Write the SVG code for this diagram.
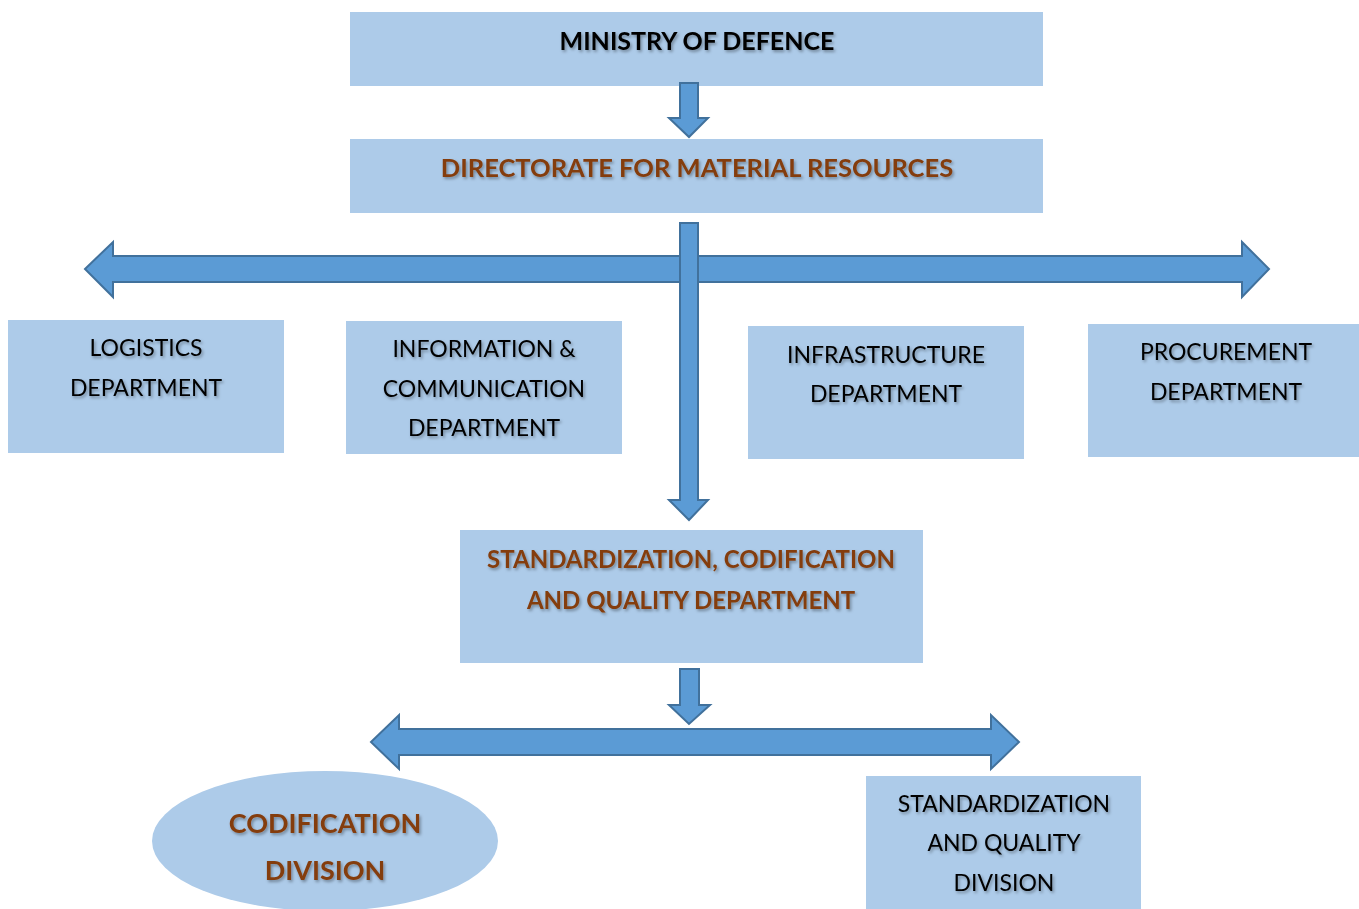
<svg xmlns="http://www.w3.org/2000/svg" width="1359" height="909" viewBox="0 0 1359 909">
<defs>
<filter id="sh" x="-10%" y="-30%" width="120%" height="160%">
<feDropShadow dx="1.5" dy="2" stdDeviation="1.5" flood-color="#000" flood-opacity="0.35"/>
</filter>
</defs>
<style>
.box{fill:#ADCBE9;}
.arr{fill:#5B9BD5;stroke:#41719C;stroke-width:2;stroke-linejoin:miter;}
.t{font-family:Lato,"Open Sans",sans-serif;font-size:23px;fill:#000;text-anchor:middle;filter:url(#sh);}
.tb{font-family:Lato,"Open Sans",sans-serif;font-size:25px;font-weight:bold;fill:#000;text-anchor:middle;filter:url(#sh);}
.br{font-family:Lato,"Open Sans",sans-serif;font-size:25.5px;font-weight:bold;fill:#843C0C;text-anchor:middle;filter:url(#sh);}
.br1{font-family:Lato,"Open Sans",sans-serif;font-size:24px;font-weight:bold;fill:#843C0C;text-anchor:middle;filter:url(#sh);}
.br2{font-family:Lato,"Open Sans",sans-serif;font-size:27px;font-weight:bold;fill:#843C0C;text-anchor:middle;filter:url(#sh);}
</style>
<rect width="1359" height="909" fill="#fff"/>
<g id="ministry">
<rect class="box" x="350" y="12" width="693" height="74"/>
<text class="tb" x="697" y="50">MINISTRY OF DEFENCE</text>
</g>
<g id="directorate">
<rect class="box" x="350" y="139" width="693" height="74"/>
<text class="br" x="697" y="177">DIRECTORATE FOR MATERIAL RESOURCES</text>
</g>
<g id="logistics">
<rect class="box" x="8" y="320" width="276" height="133"/>
<text class="t" x="146" y="356">LOGISTICS</text>
<text class="t" x="146" y="396">DEPARTMENT</text>
</g>
<g id="ict">
<rect class="box" x="346" y="321" width="276" height="133"/>
<text class="t" x="484" y="357">INFORMATION &amp;</text>
<text class="t" x="484" y="397">COMMUNICATION</text>
<text class="t" x="484" y="436">DEPARTMENT</text>
</g>
<g id="infrastructure">
<rect class="box" x="748" y="326" width="276" height="133"/>
<text class="t" x="886" y="363">INFRASTRUCTURE</text>
<text class="t" x="886" y="402">DEPARTMENT</text>
</g>
<g id="procurement">
<rect class="box" x="1088" y="324" width="271" height="133"/>
<text class="t" x="1226" y="360">PROCUREMENT</text>
<text class="t" x="1226" y="400">DEPARTMENT</text>
</g>
<g id="scq">
<rect class="box" x="460" y="530" width="463" height="133"/>
<text class="br1" x="691" y="568">STANDARDIZATION, CODIFICATION</text>
<text class="br1" x="691" y="609">AND QUALITY DEPARTMENT</text>
</g>
<g id="codification">
<ellipse class="box" cx="325" cy="841" rx="173" ry="70"/>
<text class="br2" x="325" y="833">CODIFICATION</text>
<text class="br2" x="325" y="880">DIVISION</text>
</g>
<g id="sqdivision">
<rect class="box" x="866" y="776" width="275" height="133"/>
<text class="t" x="1004" y="812">STANDARDIZATION</text>
<text class="t" x="1004" y="851">AND QUALITY</text>
<text class="t" x="1004" y="891">DIVISION</text>
</g>
<g id="connectors">
<polygon class="arr" points="680,83 698,83 698,118 708,118 689,137 669,118 680,118"/>
<polygon class="arr" points="85,269 113,242 113,256 1242,256 1242,242 1269,269 1242,297 1242,282 113,282 113,297"/>
<polygon class="arr" points="680,223 698,223 698,500 708,500 689,520 669,500 680,500"/>
<polygon class="arr" points="680,669 699,669 699,705 710,705 689,724 669,705 680,705"/>
<polygon class="arr" points="371,742 399,715 399,729 991,729 991,715 1019,742 991,769 991,755 399,755 399,769"/>
</g>
</svg>
